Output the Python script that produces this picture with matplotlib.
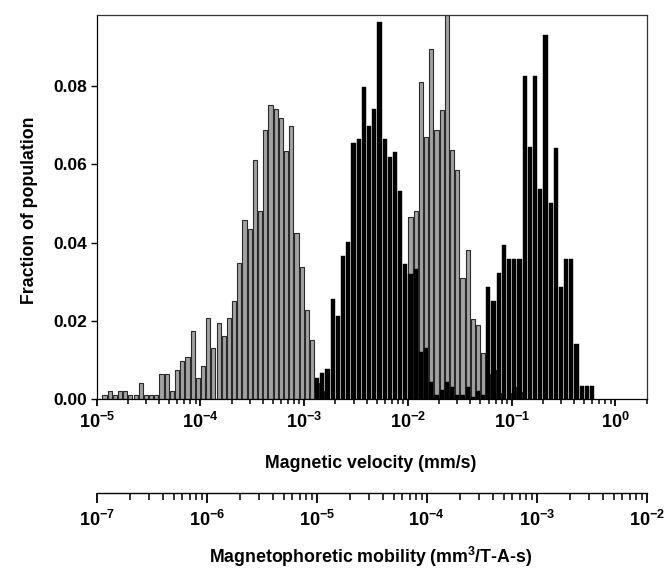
import numpy as np
import matplotlib
matplotlib.use('Agg')
import matplotlib.pyplot as plt
from matplotlib.ticker import LogLocator, NullFormatter

plt.rcParams['font.family'] = ['Liberation Sans', 'DejaVu Sans']
plt.rcParams['font.weight'] = 'bold'
plt.rcParams['mathtext.fontset'] = 'custom'
plt.rcParams['mathtext.rm'] = 'Liberation Sans:bold'
plt.rcParams['mathtext.bf'] = 'Liberation Sans:bold'
plt.rcParams['mathtext.it'] = 'Liberation Sans:bold'

# ---- data: histogram bins in log10(velocity), 0.05 decade wide, starting at 1e-5 ----
bin_start_log = -5.0
bin_step_log = 0.05

gray_first_bin = 1
gray_values = [
    0.001, 0.002, 0.001, 0.002, 0.002, 0.001, 0.001, 0.004, 0.001, 0.001,
    0.001, 0.0065, 0.0065, 0.002, 0.0075, 0.0097, 0.0108, 0.0173, 0.0054, 0.0085,
    0.0207, 0.013, 0.0194, 0.016, 0.0207, 0.0251, 0.0349, 0.0458, 0.0436, 0.0612,
    0.048, 0.0688, 0.0752, 0.0741, 0.0719, 0.0634, 0.0698, 0.0424, 0.0337, 0.0228,
    0.0151, 0.004, 0.002, 0.0, 0.0, 0.0, 0.0, 0.0, 0.0, 0.0,
    0.0, 0.0, 0.0, 0.0, 0.0, 0.0, 0.0, 0.0, 0.0, 0.0466,
    0.0482, 0.081, 0.0671, 0.0895, 0.0688, 0.074, 0.105, 0.0636, 0.0585, 0.031,
    0.038, 0.0205, 0.0188, 0.0118, 0.0065, 0.0075, 0.0015, 0.0, 0.0015, 0.003,
    0.0018,
]

black_first_bin = 42
black_values = [
    0.0054, 0.0066, 0.0077, 0.0256, 0.0212, 0.0366, 0.0401, 0.0654, 0.0664, 0.0798,
    0.0697, 0.0742, 0.0963, 0.0664, 0.062, 0.0631, 0.0533, 0.0344, 0.032, 0.0332,
    0.012, 0.013, 0.0043, 0.001, 0.0022, 0.0043, 0.003, 0.001, 0.001, 0.003,
    0.0005, 0.002, 0.001, 0.0286, 0.025, 0.0322, 0.0394, 0.0358, 0.0358, 0.0358,
    0.0825, 0.0645, 0.0825, 0.0537, 0.0932, 0.0502, 0.0643, 0.0286, 0.0358, 0.0358,
    0.0141, 0.0032, 0.0032, 0.0032,
]

y_ticks = [0.00, 0.02, 0.04, 0.06, 0.08]
vel_ticks = [1e-5, 1e-4, 1e-3, 1e-2, 1e-1, 1e0]
vel_labels = [r'$\mathbf{10^{-5}}$', r'$\mathbf{10^{-4}}$', r'$\mathbf{10^{-3}}$',
              r'$\mathbf{10^{-2}}$', r'$\mathbf{10^{-1}}$', r'$\mathbf{10^{0}}$']
mob_ticks = [1e-7, 1e-6, 1e-5, 1e-4, 1e-3, 1e-2]
mob_labels = [r'$\mathbf{10^{-7}}$', r'$\mathbf{10^{-6}}$', r'$\mathbf{10^{-5}}$',
              r'$\mathbf{10^{-4}}$', r'$\mathbf{10^{-3}}$', r'$\mathbf{10^{-2}}$']

fig = plt.figure(figsize=(6.7, 5.76), dpi=100)
ax = fig.add_axes([96.7 / 670, 1 - 399 / 576, 550 / 670, 384 / 576])


def draw(first, vals, **kw):
    k = np.arange(first, first + len(vals))
    lo = bin_start_log + bin_step_log * k
    left = 10 ** (lo + bin_step_log * 0.1)
    right = 10 ** (lo + bin_step_log * 0.9)
    ax.bar(left, vals, width=right - left, align='edge', **kw)


draw(gray_first_bin, gray_values, facecolor='#a2a2a2', edgecolor='#2a2a2a', linewidth=0.8, zorder=2)
draw(black_first_bin, black_values, facecolor='black', edgecolor='black', linewidth=0.3, zorder=3)

ax.set_xscale('log')
ax.set_xlim(1e-5, 2)
ax.set_ylim(0, 0.0982)
ax.set_yticks(y_ticks)
ax.set_yticklabels([f'{v:.2f}' for v in y_ticks], fontsize=12.5, fontweight='bold')
ax.set_xticks(vel_ticks)
ax.set_xticklabels(vel_labels, fontsize=13)
ax.xaxis.set_minor_locator(LogLocator(base=10, subs=np.arange(2, 10), numticks=20))
ax.xaxis.set_minor_formatter(NullFormatter())
ax.tick_params(axis='x', which='major', direction='out', length=5, width=1.3, pad=4)
ax.tick_params(axis='x', which='minor', direction='out', length=3.5, width=1.1)
ax.tick_params(axis='y', which='major', direction='out', length=4, width=1.0, pad=3)
ax.tick_params(top=False, right=False)
for s in ax.spines.values():
    s.set_linewidth(0.9)
    s.set_color('#333333')
ax.spines['bottom'].set_color('black')
ax.spines['left'].set_color('black')

# secondary mobility axis
ax2 = fig.add_axes([96.7 / 670, 1 - 493 / 576, 550 / 670, 0.0001])
ax2.set_facecolor('none')
for side in ['top', 'left', 'right']:
    ax2.spines[side].set_visible(False)
ax2.spines['bottom'].set_linewidth(1.0)
ax2.set_xscale('log')
ax2.set_xlim(1e-7, 1e-2)
ax2.set_yticks([])
ax2.set_xticks(mob_ticks)
ax2.set_xticklabels(mob_labels, fontsize=13)
ax2.xaxis.set_minor_locator(LogLocator(base=10, subs=np.arange(2, 10), numticks=20))
ax2.xaxis.set_minor_formatter(NullFormatter())
ax2.tick_params(axis='x', which='major', direction='out', length=7, width=1.3, pad=5)
ax2.tick_params(axis='x', which='minor', direction='out', length=5, width=1.1)

fig.text(371 / 670, 1 - 463 / 576, 'Magnetic velocity (mm/s)', ha='center', va='center',
         fontsize=12.8, fontweight='bold')
fig.text(371 / 670, 1 - 557 / 576, r'Magnetophoretic mobility (mm$^{\mathbf{3}}$/T-A-s)',
         ha='center', va='center', fontsize=12.8, fontweight='bold')
fig.text(30 / 670, 1 - 210 / 576, 'Fraction of population', ha='center', va='center',
         rotation=90, fontsize=12.8, fontweight='bold')

fig.savefig('out.png', dpi=100)
